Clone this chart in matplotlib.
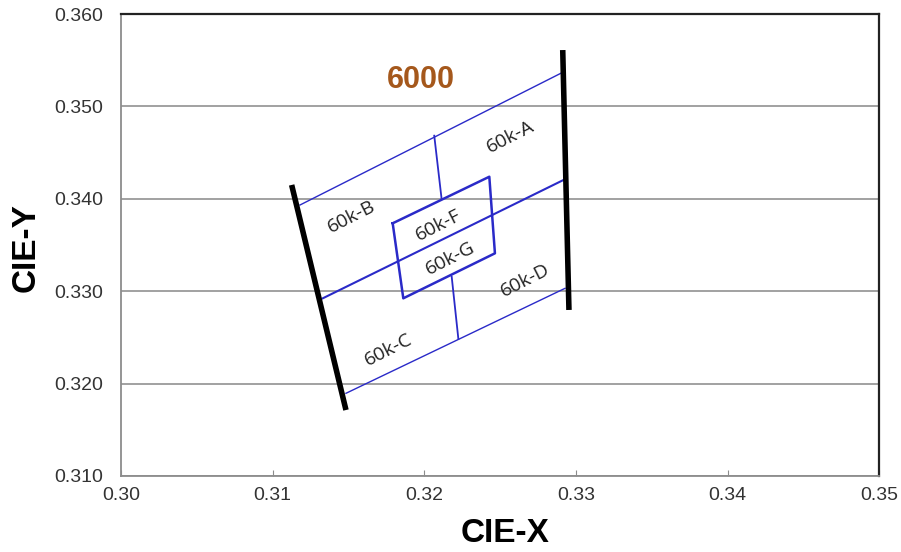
import matplotlib
matplotlib.use("Agg")
import matplotlib.pyplot as plt

# black boundary lines (CCT isotherms)
left_iso_x = [0.31125, 0.31483]
left_iso_y = [0.34150, 0.31714]
right_iso_x = [0.32912, 0.32953]
right_iso_y = [0.35610, 0.32797]

# blue lines across the bin
top_x = [0.31180, 0.32912]
top_y = [0.33933, 0.35369]
mid_x = [0.31330, 0.32916]
mid_y = [0.32923, 0.34203]
bot_x = [0.31483, 0.32927]
bot_y = [0.31895, 0.33031]

# short dividers
div_top_x = [0.32065, 0.32113]
div_top_y = [0.34683, 0.34005]
div_bot_x = [0.32180, 0.32224]
div_bot_y = [0.33157, 0.32483]

# inner box F/G
box_x = [0.31791, 0.32428, 0.32465, 0.31861, 0.31791]
box_y = [0.33735, 0.34239, 0.33410, 0.32923, 0.33735]

bin_names = ["60k-A", "60k-B", "60k-F", "60k-G", "60k-D", "60k-C"]
bin_x = [0.32564, 0.31521, 0.32092, 0.32169, 0.32663, 0.31762]
bin_y = [0.34672, 0.33806, 0.33716, 0.33356, 0.33121, 0.32364]

fig = plt.figure(figsize=(9.01, 5.52), dpi=100)
ax = fig.add_axes([0.1343, 0.1377, 0.8418, 0.8369])

ax.set_xlim(0.30, 0.35)
ax.set_ylim(0.310, 0.360)
ax.set_xticks([0.30, 0.31, 0.32, 0.33, 0.34, 0.35])
ax.set_yticks([0.310, 0.320, 0.330, 0.340, 0.350, 0.360])
ax.set_xticklabels([f"{v:.2f}" for v in ax.get_xticks()])
ax.set_yticklabels([f"{v:.3f}" for v in ax.get_yticks()])
ax.yaxis.grid(True, color="#9a9a9a", linewidth=1.3)
ax.set_axisbelow(True)

for s in ["left", "bottom"]:
    ax.spines[s].set_color("#8c8c8c")
    ax.spines[s].set_linewidth(1.3)
for s in ["top", "right"]:
    ax.spines[s].set_color("#222222")
    ax.spines[s].set_linewidth(1.6)
ax.tick_params(axis="x", direction="in", length=4, color="#8c8c8c",
               labelsize=14, labelcolor="#333333", pad=8)
ax.tick_params(axis="y", length=0, labelsize=14, labelcolor="#333333", pad=13)
for lab in ax.get_xticklabels() + ax.get_yticklabels():
    lab.set_family("Liberation Sans")

blue = "#2a2ac8"
ax.plot(top_x, top_y, color=blue, lw=1.0)
ax.plot(mid_x, mid_y, color=blue, lw=1.5)
ax.plot(bot_x, bot_y, color=blue, lw=1.0)
ax.plot(div_top_x, div_top_y, color=blue, lw=1.3)
ax.plot(div_bot_x, div_bot_y, color=blue, lw=1.3)
ax.plot(box_x, box_y, color=blue, lw=1.8)

ax.plot(left_iso_x, left_iso_y, color="black", lw=4, solid_capstyle="butt")
ax.plot(right_iso_x, right_iso_y, color="black", lw=4, solid_capstyle="butt")

for name, x, y in zip(bin_names, bin_x, bin_y):
    ax.text(x, y, name, rotation=27, ha="center", va="center",
            fontsize=14, family="Open Sans", color="#222222")

ax.text(0.31978, 0.35286, "6000", ha="center", va="center", fontsize=22,
        fontweight="bold", family="Liberation Sans", color="#a5581c")

ax.set_xlabel("CIE-X", fontsize=24, fontweight="bold", family="Liberation Sans")
ax.set_ylabel("CIE-Y", fontsize=24, fontweight="bold", family="Liberation Sans")
ax.xaxis.label.set_va("center")
ax.yaxis.label.set_va("center")
ax.xaxis.set_label_coords(0.506, -0.1255)
ax.yaxis.set_label_coords(-0.1252, 0.4935)

fig.savefig("out.png", dpi=100)
